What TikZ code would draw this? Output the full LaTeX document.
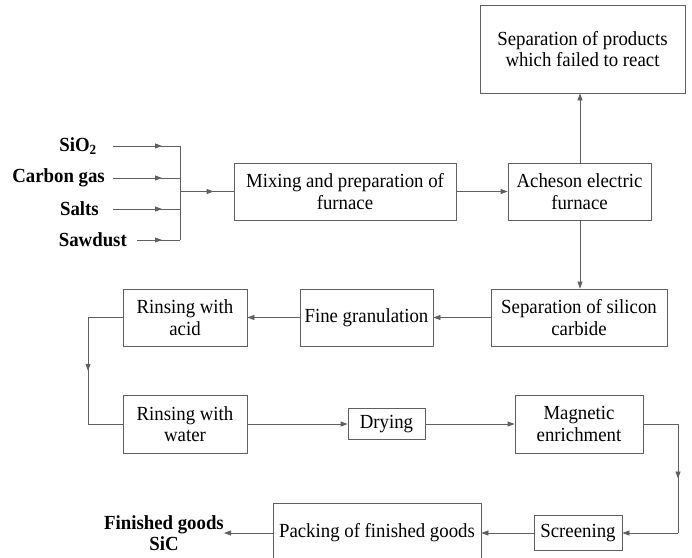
\documentclass[tikz,border=0pt]{standalone}
\usepackage{fontspec}
\setmainfont{Liberation Serif}[FakeStretch=0.94]
\usetikzlibrary{arrows.meta,decorations.markings}
\definecolor{linegray}{RGB}{96,96,96}
\begin{document}
\begin{tikzpicture}[x=1pt,y=-1pt,
 box/.style={draw=linegray, line width=0.8pt, rectangle, align=center, inner sep=0pt, text=black, font=\fontsize{20}{21.5}\selectfont},
 lbl/.style={font=\fontsize{20}{21.5}\selectfont\bfseries, inner sep=0pt, align=center},
 conn/.style={linegray, line width=0.8pt},
 arr/.style={conn, -{Triangle[length=7pt,width=5pt]}},
 midarr/.style={conn, postaction={decorate}, decoration={markings, mark=at position #1 with {\arrow{Triangle[length=7pt,width=5pt]}}}},
]
\clip (0,0) rectangle (692,557);
\fill[white] (0,0) rectangle (692,557);
% boxes
\node[box, minimum width=205pt, minimum height=88pt] (sepprod) at (582.5,49) {Separation of products\\which failed to react};
\node[box, minimum width=143pt, minimum height=57pt] (acheson) at (579.5,191.5) {Acheson electric\\furnace};
\node[box, minimum width=222pt, minimum height=57pt] (mixing) at (345,191.5) {Mixing and preparation of\\furnace};
\node[box, minimum width=176pt, minimum height=57pt] (sepsic) at (579,317.5) {Separation of silicon\\carbide};
\node[box, minimum width=133pt, minimum height=57pt] (fine) at (366.5,317.5) {Fine granulation};
\node[box, minimum width=124pt, minimum height=57pt] (acid) at (185,317.5) {Rinsing with\\acid};
\node[box, minimum width=124pt, minimum height=58pt] (water) at (185,424) {Rinsing with\\water};
\node[box, minimum width=77pt, minimum height=31pt] (drying) at (386.5,424) {Drying};
\node[box, minimum width=128pt, minimum height=58pt] (magnetic) at (579,424) {Magnetic\\enrichment};
\node[box, minimum width=88pt, minimum height=35pt] (screening) at (578,533) {Screening};
\node[box, minimum width=208pt, minimum height=60pt] (packing) at (377,533) {Packing of finished goods};
% labels
\node[lbl, anchor=east] (sio2) at (97,146) {SiO\textsubscript{2}};
\node[lbl, anchor=east] (carbon) at (105,178) {Carbon gas};
\node[lbl, anchor=east] (salts) at (99,209) {Salts};
\node[lbl, anchor=east] (sawdust) at (127,240) {Sawdust};
\node[lbl] (finished) at (164,533) {Finished goods\\SiC};
% input lines
\coordinate (s1) at (113,146);
\coordinate (s2) at (113,178);
\coordinate (s3) at (113,209);
\coordinate (s4) at (137,240);
\coordinate (b1) at (180,146);
\coordinate (b2) at (180,178);
\coordinate (b3) at (180,209);
\coordinate (b4) at (180,240);
\coordinate (bm) at (180,191.5);
\draw[midarr=-18pt] (s1) -- (b1);
\draw[midarr=-18pt] (s2) -- (b2);
\draw[midarr=-18pt] (s3) -- (b3);
\draw[midarr=-18pt] (s4) -- (b4);
\draw[conn] (b1) -- (b4);
\draw[midarr=-20pt] (bm) -- (mixing.west);
% main flow
\draw[arr] (mixing.east) -- (acheson.west);
\draw[arr] (acheson.north -| 580,0) -- (sepprod.south -| 580,0);
\draw[arr] (acheson.south -| 580,0) -- (sepsic.north -| 580,0);
\draw[arr] (sepsic.west) -- (fine.east);
\draw[arr] (fine.west) -- (acid.east);
\coordinate (l1) at (88,317.5);
\coordinate (l2) at (88,424);
\draw[conn] (acid.west) -- (l1);
\draw[midarr=0.5] (l1) -- (l2);
\draw[conn] (l2) -- (water.west);
\draw[arr] (water.east) -- (drying.west);
\draw[arr] (drying.east) -- (magnetic.west);
\coordinate (r1) at (678,424);
\coordinate (r2) at (678,533);
\draw[conn] (magnetic.east) -- (r1);
\draw[midarr=0.5] (r1) -- (r2);
\draw[arr] (r2) -- (screening.east);
\draw[arr] (screening.west) -- (packing.east);
\draw[arr] (packing.west) -- (finished.east);
\end{tikzpicture}
\end{document}
